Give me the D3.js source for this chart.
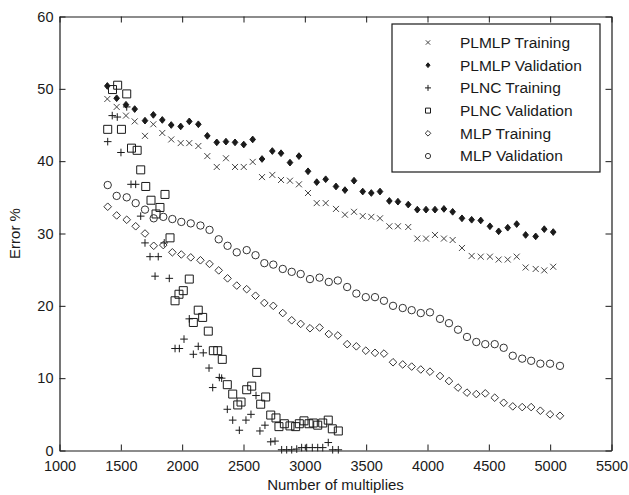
<!DOCTYPE html>
<html>
<head>
<meta charset="utf-8">
<script src="https://cdn.jsdelivr.net/npm/d3@7"></script>
<style>
  html, body { margin: 0; padding: 0; background: #fff; }
  svg { display: block; }
</style>
</head>
<body>
<div id="chart"></div>
<script>
// Values
const xTicks = [1000, 1500, 2000, 2500, 3000, 3500, 4000, 4500, 5000, 5500];
const yTicks = [0, 10, 20, 30, 40, 50, 60];

const xPLMLP = [1390, 1466, 1542, 1613, 1697, 1765, 1838, 1911, 1988, 2058,
    2132, 2205, 2282, 2357, 2431, 2502, 2575, 2651, 2735, 2806,
    2879, 2952, 3026, 3097, 3170, 3254, 3327, 3401, 3472, 3542,
    3613, 3689, 3759, 3843, 3917, 3988, 4061, 4134, 4205, 4281,
    4360, 4434, 4509, 4580, 4654, 4727, 4800, 4882, 4952, 5025];
const yPLMLPTrain = [48.6, 47.5, 46.3, 45.5, 43.5, 45.1, 43.9, 43.0, 42.5, 42.5,
    42.1, 40.7, 39.2, 40.4, 39.2, 39.2, 39.9, 37.8, 38.1, 37.4,
    37.3, 36.8, 35.6, 34.2, 34.2, 33.4, 32.6, 33.0, 32.4, 32.3,
    32.1, 31.0, 31.0, 30.9, 29.3, 29.3, 29.8, 29.3, 29.1, 28.0,
    26.9, 26.8, 26.8, 26.4, 26.4, 26.8, 25.3, 25.1, 24.9, 25.4];
const yPLMLPVal = [50.4, 48.7, 47.8, 47.2, 45.6, 46.4, 45.7, 45.0, 44.8, 45.5,
    45.1, 43.5, 42.6, 42.7, 42.6, 42.3, 43.0, 40.3, 41.4, 41.1,
    39.8, 40.7, 38.6, 37.1, 37.5, 36.5, 36.0, 37.3, 35.8, 35.6,
    35.8, 34.5, 34.4, 34.0, 33.3, 33.3, 33.3, 33.4, 33.0, 32.1,
    31.9, 31.8, 31.0, 30.3, 30.8, 31.3, 29.8, 29.6, 30.6, 30.2];

const xPLNCTrain = [1393, 1430, 1471, 1501, 1548, 1583, 1621, 1662, 1697, 1738,
    1779, 1805, 1854, 1895, 1942, 1977, 2015, 2058, 2091, 2131,
    2172, 2219, 2249, 2303, 2322, 2368, 2412, 2466, 2520, 2561,
    2602, 2634, 2675, 2722, 2757, 2811, 2852, 2893, 2934, 2974,
    3015, 3061, 3105, 3146, 3191, 3227, 3273];
const yPLNCTrain = [42.7, 46.3, 46.1, 41.2, 47.5, 36.8, 36.8, 32.4, 28.7, 26.8,
    24.1, 26.8, 28.7, 23.8, 14.1, 14.1, 15.4, 18.2, 13.3, 14.4,
    13.5, 11.4, 8.7, 10.1, 10.0, 5.7, 4.2, 2.8, 4.2, 5.0,
    7.6, 2.7, 3.5, 1.2, 1.3, 0.1, 0.1, 0.1, 0.2, 0.4,
    0.4, 0.4, 0.4, 0.4, 1.1, 0.1, 0.1];

const xPLNCVal = [1393, 1432, 1474, 1505, 1548, 1587, 1633, 1662, 1703, 1746,
    1787, 1819, 1860, 1901, 1942, 1974, 2009, 2058, 2091, 2131,
    2167, 2213, 2254, 2290, 2327, 2368, 2412, 2453, 2480, 2526,
    2567, 2608, 2640, 2681, 2722, 2765, 2789, 2833, 2879, 2925,
    2955, 2993, 3034, 3069, 3105, 3146, 3191, 3224, 3273];
const yPLNCVal = [44.4, 49.9, 50.5, 44.4, 49.3, 41.8, 41.5, 38.8, 36.5, 34.6,
    32.7, 33.6, 35.4, 29.4, 20.7, 21.6, 22.1, 23.7, 17.7, 19.4,
    18.4, 16.5, 13.8, 13.8, 12.6, 9.1, 7.8, 6.3, 6.7, 8.4,
    8.9, 10.8, 6.4, 7.4, 4.9, 4.5, 3.3, 3.7, 3.4, 3.3,
    3.7, 4.1, 3.7, 3.8, 3.5, 3.8, 4.2, 3.0, 2.7];

const xMLP = [1393, 1466, 1548, 1621, 1697, 1768, 1846, 1920, 1993, 2070,
    2149, 2223, 2298, 2370, 2445, 2526, 2598, 2670, 2743, 2820,
    2893, 2966, 3042, 3120, 3195, 3269, 3345, 3420, 3497, 3572,
    3645, 3719, 3798, 3871, 3945, 4020, 4102, 4175, 4249, 4322,
    4398, 4471, 4548, 4621, 4695, 4772, 4845, 4920, 4999, 5080];
const yMLPTrain = [33.7, 32.5, 31.9, 31.0, 30.0, 28.3, 28.4, 27.4, 27.1, 26.7,
    26.3, 25.8, 24.9, 23.8, 22.8, 22.3, 21.4, 20.4, 20.0, 19.0,
    18.0, 17.5, 16.9, 17.0, 16.1, 15.9, 14.7, 14.4, 13.8, 13.5,
    13.4, 12.2, 11.9, 11.6, 11.2, 10.9, 10.3, 9.6, 8.7, 8.0,
    7.8, 7.9, 7.3, 6.6, 6.1, 6.0, 6.0, 5.5, 5.0, 4.8];
const yMLPVal = [36.7, 35.2, 35.0, 34.2, 33.3, 32.1, 32.3, 32.0, 31.6, 31.4,
    31.1, 30.5, 29.2, 28.3, 27.4, 27.7, 27.0, 25.9, 25.7, 25.1,
    24.7, 24.4, 23.7, 23.9, 23.3, 23.5, 22.6, 21.7, 21.2, 21.2,
    20.7, 20.0, 19.7, 19.4, 19.0, 19.1, 18.2, 17.6, 16.7, 15.7,
    15.0, 14.7, 14.7, 14.2, 13.1, 12.7, 12.4, 12.0, 12.0, 11.7];

const seriesNames = ['PLMLP Training', 'PLMLP Validation', 'PLNC Training',
    'PLNC Validation', 'MLP Training', 'MLP Validation'];

const W = 629, H = 495;
const FONT = '"Liberation Sans", Arial, sans-serif';
const INK = '#1a1a1a';

// Marker shapes, size = half width
const markers = {
    times: { draw(c, s) { c.moveTo(-s, -s); c.lineTo(s, s); c.moveTo(-s, s); c.lineTo(s, -s); } },
    fdiamond: { draw(c, s) { c.moveTo(0, -s * 1.2); c.lineTo(s, 0); c.lineTo(0, s * 1.2); c.lineTo(-s, 0); c.closePath(); } },
    plus: { draw(c, s) { c.moveTo(-s, 0); c.lineTo(s, 0); c.moveTo(0, -s); c.lineTo(0, s); } },
    square: { draw(c, s) { c.rect(-s, -s, 2 * s, 2 * s); } },
    diamond: { draw(c, s) { c.moveTo(0, -s); c.lineTo(s, 0); c.lineTo(0, s); c.lineTo(-s, 0); c.closePath(); } },
    circle: { draw(c, s) { c.moveTo(s, 0); c.arc(0, 0, s, 0, 2 * Math.PI); } }
};

const series = [
    { name: seriesNames[0], xs: xPLMLP, ys: yPLMLPTrain, type: markers.times, size: 3, legendSize: 2.2, fill: 'none', stroke: '#444' },
    { name: seriesNames[1], xs: xPLMLP, ys: yPLMLPVal, type: markers.fdiamond, size: 2.8, legendSize: 2, fill: INK, stroke: INK },
    { name: seriesNames[2], xs: xPLNCTrain, ys: yPLNCTrain, type: markers.plus, size: 3.8, legendSize: 3, fill: 'none', stroke: INK },
    { name: seriesNames[3], xs: xPLNCVal, ys: yPLNCVal, type: markers.square, size: 4, legendSize: 2.5, fill: 'none', stroke: INK },
    { name: seriesNames[4], xs: xMLP, ys: yMLPTrain, type: markers.diamond, size: 3.8, legendSize: 2.8, fill: 'none', stroke: '#333' },
    { name: seriesNames[5], xs: xMLP, ys: yMLPVal, type: markers.circle, size: 3.7, legendSize: 2.6, fill: 'none', stroke: '#333' }
];

const svg = d3.select('#chart')
    .append('svg')
    .attr('width', W)
    .attr('height', H)
    .attr('viewBox', `0 0 ${W} ${H}`);

svg.append('rect').attr('width', W).attr('height', H).attr('fill', '#fff');

const x = d3.scaleLinear().domain([1000, 5500]).range([59.5, 611.5]);
const y = d3.scaleLinear().domain([0, 60]).range([450.5, 16.5]);

// Axes: ticks point inward on all four sides
function styleAxis(g) {
    g.attr('font-family', FONT).attr('font-size', 14.5);
    g.select('.domain').attr('stroke', INK).attr('stroke-width', 1.2);
    g.selectAll('.tick line').attr('stroke', INK);
    g.selectAll('.tick text').attr('fill', INK);
}

svg.append('g')
    .attr('transform', `translate(0,${y(0)})`)
    .call(d3.axisBottom(x).tickValues(xTicks).tickFormat(d3.format('d'))
        .tickSizeInner(-6).tickSizeOuter(0).tickPadding(10))
    .call(styleAxis);

svg.append('g')
    .attr('transform', `translate(0,${y(60)})`)
    .call(d3.axisTop(x).tickValues(xTicks).tickFormat('').tickSizeInner(-6).tickSizeOuter(0))
    .call(styleAxis);

svg.append('g')
    .attr('transform', `translate(${x(1000)},0)`)
    .call(d3.axisLeft(y).tickValues(yTicks).tickFormat(d3.format('d'))
        .tickSizeInner(-6).tickSizeOuter(0).tickPadding(6))
    .call(styleAxis);

svg.append('g')
    .attr('transform', `translate(${x(5500)},0)`)
    .call(d3.axisRight(y).tickValues(yTicks).tickFormat('').tickSizeInner(-6).tickSizeOuter(0))
    .call(styleAxis);

// Axis titles
svg.append('text')
    .attr('x', (x(1000) + x(5500)) / 2)
    .attr('y', 490)
    .attr('text-anchor', 'middle')
    .attr('font-family', FONT)
    .attr('font-size', 15)
    .attr('fill', INK)
    .text('Number of multiplies');

svg.append('text')
    .attr('transform', `translate(20,${(y(0) + y(60)) / 2}) rotate(-90)`)
    .attr('text-anchor', 'middle')
    .attr('font-family', FONT)
    .attr('font-size', 15)
    .attr('fill', INK)
    .text('Error %');

// Points
const gPoints = svg.append('g');
series.forEach(s => {
    const sym = d3.symbol().type(s.type).size(s.size);
    gPoints.append('g')
        .selectAll('path')
        .data(s.xs.map((xv, i) => [xv, s.ys[i]]))
        .join('path')
        .attr('d', sym)
        .attr('transform', d => `translate(${x(d[0])},${y(d[1])})`)
        .attr('fill', s.fill)
        .attr('stroke', s.stroke)
        .attr('stroke-width', 1);
});

// Legend
const legend = svg.append('g').attr('transform', 'translate(392,24)');
legend.append('rect')
    .attr('width', 208)
    .attr('height', 148)
    .attr('fill', '#fff')
    .attr('stroke', INK)
    .attr('stroke-width', 1.2);

const rows = legend.selectAll('g.row')
    .data(series)
    .join('g')
    .attr('class', 'row')
    .attr('transform', (d, i) => `translate(0,${18.5 + i * 22.7})`);

rows.append('path')
    .attr('d', d => d3.symbol().type(d.type).size(d.legendSize)())
    .attr('transform', 'translate(36,0)')
    .attr('fill', d => d.fill)
    .attr('stroke', d => d.stroke)
    .attr('stroke-width', 1);

rows.append('text')
    .attr('x', 68)
    .attr('dy', '0.35em')
    .attr('font-family', FONT)
    .attr('font-size', 15.5)
    .attr('fill', INK)
    .text(d => d.name);
</script>
</body>
</html>
